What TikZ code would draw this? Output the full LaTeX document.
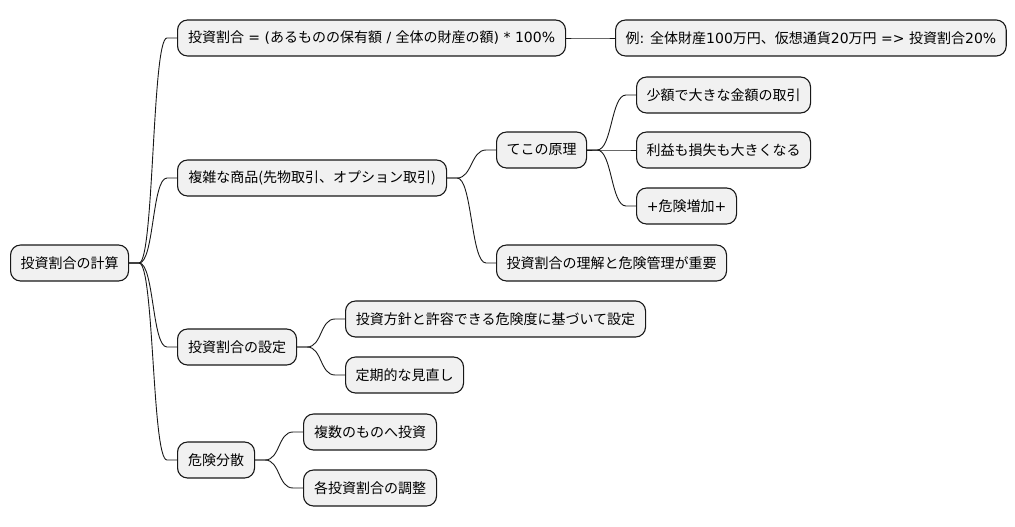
\documentclass[tikz,border=0pt]{standalone}
\usepackage{fontspec}
\setmainfont{Noto Sans CJK JP}
\newfontfamily\latnfont{DejaVu Sans}
\newcommand{\latn}[1]{{\latnfont #1}}
\usepackage{xcolor}
\definecolor{boxfill}{HTML}{F1F1F1}
\definecolor{boxline}{HTML}{181818}
\begin{document}
\begin{tikzpicture}[x=1pt,y=-1pt,
    box/.style={draw=boxline,fill=boxfill,line width=1.1pt,rounded corners=10pt,
        anchor=west,minimum height=36pt,inner xsep=10pt,
        font=\fontsize{14pt}{17pt}\selectfont},
    link/.style={draw=boxline,line width=0.9pt}]
    \useasboundingbox (0,0) rectangle (1015,527);

    \node[box,minimum width=118pt] (calc) at (10,263) {投資割合の計算};

    \node[box,minimum width=388pt] (ratio) at (177,38) {投資割合\latn{ = (}あるものの保有額\latn{ / }全体の財産の額\latn{) * 100\%}};
    \node[box,minimum width=389pt] (example) at (615,38) {例\latn{: }全体財産\latn{100}万円、仮想通貨\latn{20}万円\latn{ => }投資割合\latn{20\%}};

    \node[box,minimum width=269pt] (deriv) at (177,178) {複雑な商品(先物取引、オプション取引)};
    \node[box,minimum width=90pt] (lever) at (496,150) {てこの原理};
    \node[box,minimum width=174pt] (lever1) at (636,95) {少額で大きな金額の取引};
    \node[box,minimum width=174pt] (lever2) at (636,150) {利益も損失も大きくなる};
    \node[box,minimum width=100pt] (lever3) at (636,206) {\latn{+}危険増加\latn{+}};
    \node[box,minimum width=230pt] (manage) at (496,263) {投資割合の理解と危険管理が重要};

    \node[box,minimum width=119pt] (setting) at (177,347) {投資割合の設定};
    \node[box,minimum width=300pt] (policy) at (345,319) {投資方針と許容できる危険度に基づいて設定};
    \node[box,minimum width=118pt] (review) at (345,375) {定期的な見直し};

    \node[box,minimum width=77pt] (spread) at (177,460) {危険分散};
    \node[box,minimum width=133pt] (multi) at (303,432) {複数のものへ投資};
    \node[box,minimum width=133pt] (adjust) at (303,488) {各投資割合の調整};

    % branches: short stub, s-curve, short stub
    \foreach \p/\c in {calc/ratio,calc/deriv,calc/setting,calc/spread,
        ratio/example,deriv/lever,deriv/manage,lever/lever1,lever/lever2,lever/lever3,
        setting/policy,setting/review,spread/multi,spread/adjust}
        \draw[link] (\p.east) -- ++(10pt,0) .. controls +(15pt,0) and +(-15pt,0) .. ([xshift=-10pt]\c.west) -- (\c.west);
\end{tikzpicture}
\end{document}
